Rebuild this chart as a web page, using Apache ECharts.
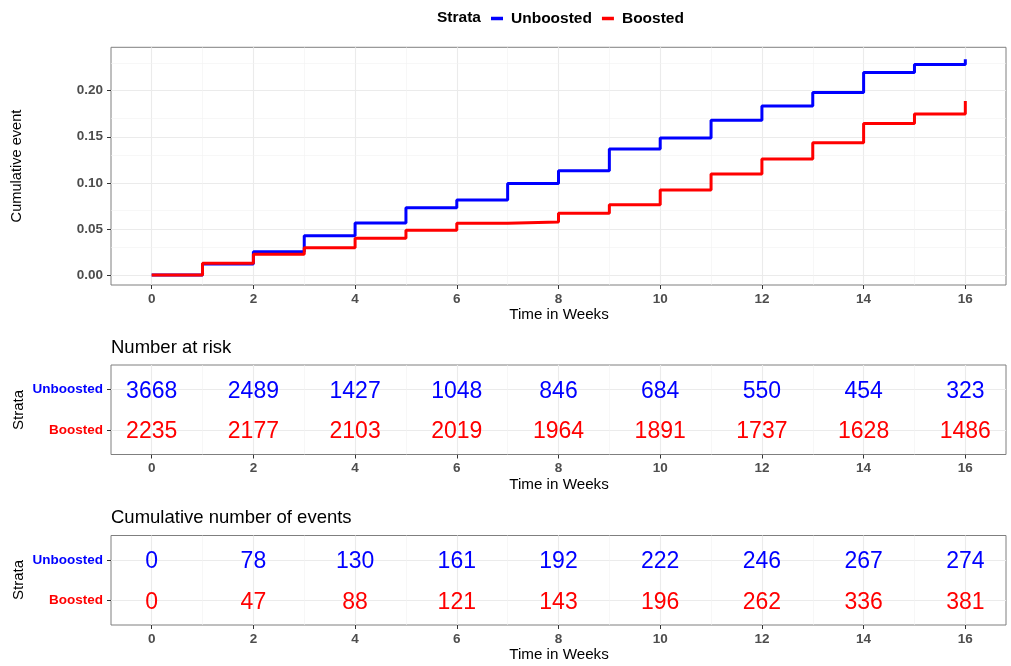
<!DOCTYPE html>
<html>
<head>
<meta charset="utf-8">
<script src="https://cdn.jsdelivr.net/npm/echarts@6/dist/echarts.min.js"></script>
<style>
html,body{margin:0;padding:0;background:#fff;}
#chart{width:1011px;height:666px;}
</style>
</head>
<body>
<div id="chart"></div>
<script>
// ---- data ----
const weeks = [0,1,2,3,4,5,6,7,8,9,10,11,12,13,14,15,16];
const unboostedCum = [0, 0.012, 0.0253, 0.0426, 0.0564, 0.073, 0.0813, 0.0994, 0.1131, 0.1367, 0.1486, 0.168, 0.1833, 0.198, 0.2198, 0.2285, 0.234];
const boostedCum   = [0, 0.0127, 0.0224, 0.0296, 0.0398, 0.0485, 0.056, 0.0575, 0.0669, 0.0763, 0.0922, 0.1095, 0.1258, 0.1435, 0.1645, 0.1746, 0.1887];

const tableWeeks = [0,2,4,6,8,10,12,14,16];
const riskUnboosted = [3668, 2489, 1427, 1048, 846, 684, 550, 454, 323];
const riskBoosted   = [2235, 2177, 2103, 2019, 1964, 1891, 1737, 1628, 1486];
const eventsUnboosted = [0, 78, 130, 161, 192, 222, 246, 267, 274];
const eventsBoosted   = [0, 47, 88, 121, 143, 196, 262, 336, 381];

const strata = ['Unboosted', 'Boosted'];
const xTicks = [0,2,4,6,8,10,12,14,16];
const xMinor = [1,3,5,7,9,11,13,15];
const yTicks = [0, 0.05, 0.10, 0.15, 0.20];
const yMinor = [0.025, 0.075, 0.125, 0.175, 0.225];

// ---- style ----
const FONT = 'Liberation Sans, Arial, Helvetica, sans-serif';
const BLUE = '#0000FF', RED = '#FF0000';
const GRIDC = '#EBEBEB';
const XMIN = -0.8, XMAX = 16.8;

const chart = echarts.init(document.getElementById('chart'), null, {renderer:'canvas'});

const panels = [
  {left:111, top:47.3, width:895, height:237.7},
  {left:111, top:365, width:895, height:89.5},
  {left:111, top:535.5, width:895, height:89.5}
];

function xAxisCfg(i){
  return {
    type:'value', gridIndex:i, min:XMIN, max:XMAX, position:'bottom',
    axisLine:{show:false, onZero:false},
    axisTick:{show:true, customValues:xTicks, length:4, lineStyle:{color:'#333', width:1}},
    axisLabel:{show:true, customValues:xTicks, margin:7, color:'#4D4D4D', fontWeight:'bold', fontSize:13.5, fontFamily:FONT},
    splitLine:{show:true, lineStyle:{color:GRIDC, width:1.1}},
    minorTick:{show:false}, minorSplitLine:{show:false}
  };
}

function minorLines(gi, xs, ys){
  const d = [];
  xs.forEach(v => d.push({xAxis:v}));
  ys.forEach(v => d.push({yAxis:v}));
  return {
    type:'line', xAxisIndex:gi, yAxisIndex:gi, data:[], z:1, silent:true,
    markLine:{z:1, zlevel:0, silent:true, symbol:['none','none'], label:{show:false}, animation:false,
      lineStyle:{color:'#F2F2F2', width:0.6, type:'solid'}, emphasis:{disabled:true}, data:d}
  };
}

function tableSeries(gi, valsTop, valsBottom){
  const d = [];
  tableWeeks.forEach((w,i) => d.push({value:[w, 2, valsTop[i]], label:{color:BLUE}}));
  tableWeeks.forEach((w,i) => d.push({value:[w, 1, valsBottom[i]], label:{color:RED}}));
  return {
    type:'scatter', xAxisIndex:gi, yAxisIndex:gi, symbol:'circle', symbolSize:1,
    itemStyle:{color:'rgba(0,0,0,0)', opacity:1}, silent:true, z:5,
    label:{show:true, position:'inside', offset:[0,2], fontSize:23, fontFamily:FONT, opacity:1, textBorderWidth:0,
      formatter:p => String(p.value[2])},
    data:d
  };
}

function tableYAxis(gi){
  return {
    type:'value', gridIndex:gi, min:0.4, max:2.6, position:'left',
    axisLine:{show:false, onZero:false},
    axisTick:{show:true, customValues:[1,2], length:4, lineStyle:{color:'#333'}},
    axisLabel:{show:true, customValues:[1,2], margin:8, fontWeight:'bold', fontSize:13.5, fontFamily:FONT,
      formatter: v => v === 2 ? '{u|' + strata[0] + '}' : '{b|' + strata[1] + '}',
      rich:{u:{color:BLUE, fontWeight:'bold', fontSize:13.5, fontFamily:FONT}, b:{color:RED, fontWeight:'bold', fontSize:13.5, fontFamily:FONT}}},
    splitLine:{show:true, lineStyle:{color:GRIDC, width:1.1}}
  };
}

function txt(x, y, text, size, opts){
  opts = opts || {};
  return {
    type:'text', x:x, y:y, rotation: opts.rot || 0, silent:true, z:10,
    style:{text:text, fill: opts.color || '#000', font: (opts.bold ? 'bold ' : '') + size + 'px ' + FONT,
      textAlign: opts.align || 'center', textVerticalAlign:'middle'}
  };
}

const option = {
  animation:false,
  backgroundColor:'#fff',
  grid: panels.map(p => ({left:p.left, top:p.top, width:p.width, height:p.height, show:true,
    backgroundColor:'#fff', borderColor:'#7F7F7F', borderWidth:1, containLabel:false})),
  legend:{
    data:strata, left:491, top:10.5, padding:0, icon:'rect', itemWidth:12, itemHeight:3.5, itemGap:10,
    textStyle:{fontWeight:'bold', fontSize:15.5, fontFamily:FONT, color:'#000', padding:[0,0,0,3]},
    selectedMode:false
  },
  xAxis:[xAxisCfg(0), xAxisCfg(1), xAxisCfg(2)],
  yAxis:[
    {type:'value', gridIndex:0, min:-0.0109, max:0.2471, position:'left',
      axisLine:{show:false, onZero:false},
      axisTick:{show:true, customValues:yTicks, length:4, lineStyle:{color:'#333'}},
      axisLabel:{show:true, customValues:yTicks, margin:8, color:'#4D4D4D', fontWeight:'bold', fontSize:13.5, fontFamily:FONT,
        formatter: v => v.toFixed(2)},
      splitLine:{show:true, lineStyle:{color:GRIDC, width:1.1}}},
    tableYAxis(1), tableYAxis(2)
  ],
  graphic:[
    txt(437, 18, 'Strata', 15.5, {bold:true, align:'left'}),
    txt(17, 166, 'Cumulative event', 14.6, {rot:Math.PI/2}),
    txt(559, 315, 'Time in Weeks', 15.2),
    txt(111, 348, 'Number at risk', 18.5, {align:'left'}),
    txt(18.5, 410, 'Strata', 15, {rot:Math.PI/2}),
    txt(559, 485, 'Time in Weeks', 15.2),
    txt(111, 518, 'Cumulative number of events', 18.5, {align:'left'}),
    txt(18.5, 580, 'Strata', 15, {rot:Math.PI/2}),
    txt(559, 655, 'Time in Weeks', 15.2)
  ],
  series:[
    minorLines(0, xMinor, yMinor),
    minorLines(1, xMinor, []),
    minorLines(2, xMinor, []),
    {name:strata[0], type:'line', xAxisIndex:0, yAxisIndex:0, step:'end', showSymbol:false, symbol:'none',
      lineStyle:{color:BLUE, width:3}, itemStyle:{color:BLUE}, z:3, silent:true,
      data: weeks.map((w,i) => [w, unboostedCum[i]])},
    {name:strata[1], type:'line', xAxisIndex:0, yAxisIndex:0, step:'end', showSymbol:false, symbol:'none',
      lineStyle:{color:RED, width:3}, itemStyle:{color:RED}, z:4, silent:true,
      data: weeks.map((w,i) => [w, boostedCum[i]])},
    tableSeries(1, riskUnboosted, riskBoosted),
    tableSeries(2, eventsUnboosted, eventsBoosted)
  ]
};
chart.setOption(option);
</script>
</body>
</html>
